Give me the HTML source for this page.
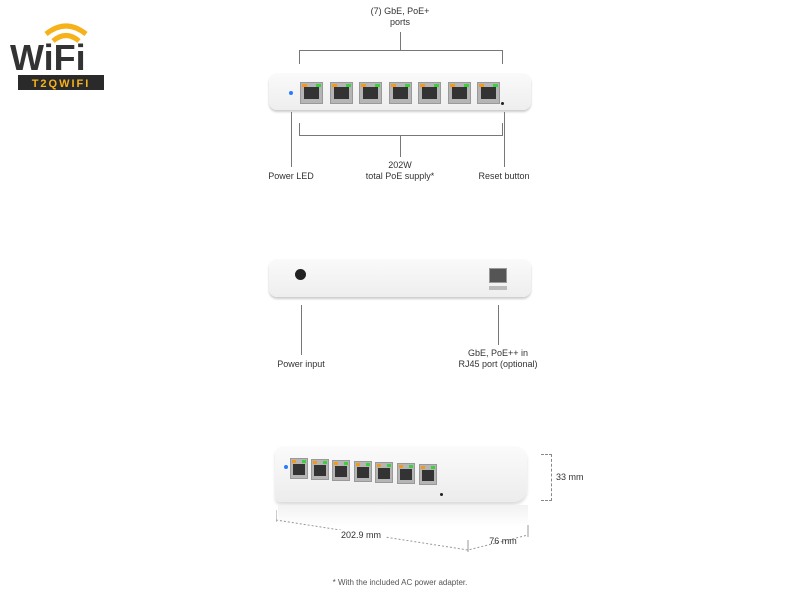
<!DOCTYPE html>
<html><head><style>
body{margin:0;width:800px;height:600px;background:#fff;position:relative;overflow:hidden;font-family:"Liberation Sans",sans-serif;color:#333}
.a{position:absolute}
.t{position:absolute;font-size:9px;text-align:center;line-height:11px;color:#333;white-space:nowrap}
.ln{position:absolute;background:#777}
.sw{position:absolute;background:linear-gradient(#fafafa,#eeeeee);border-radius:8px;box-shadow:0 2px 2px #ccc}
.p{position:absolute;width:21px;height:20px;background:#b5b5b5;border:1px solid #999}
.p:before{content:"";position:absolute;left:3px;top:4px;width:15px;height:12px;background:#333}
.p i{position:absolute;top:1px;width:5px;height:3px}
.q{position:absolute;width:16px;height:19px;background:#b5b5b5;border:1px solid #999}
.q:before{content:"";position:absolute;left:2px;top:5px;width:12px;height:11px;background:#333}
.q i{position:absolute;top:1px;width:4px;height:3px}
</style></head><body>
<!-- logo -->
<svg class="a" style="left:8px;top:20px" width="105" height="72">
<path d="M38 14 Q58 -2 78 14" stroke="#f6b21a" stroke-width="5" fill="none"/>
<path d="M45 21 Q58 10 71 21" stroke="#f6b21a" stroke-width="5" fill="none"/>
<text x="2" y="50" font-family="Liberation Sans" font-weight="bold" font-size="36" fill="#333">WiFi</text>
<rect x="10" y="55" width="86" height="15" fill="#2a2a2a"/>
<text x="53" y="67" font-family="Liberation Sans" font-weight="bold" font-size="11" fill="#f6b21a" text-anchor="middle" letter-spacing="2">T2QWIFI</text>
</svg>

<div class="t" style="left:350px;top:6px;width:100px">(7) GbE, PoE+<br>ports</div>
<div class="ln" style="left:400px;top:32px;width:1px;height:18px"></div>
<div class="ln" style="left:299px;top:50px;width:204px;height:1px"></div>
<div class="ln" style="left:299px;top:50px;width:1px;height:14px"></div>
<div class="ln" style="left:502px;top:50px;width:1px;height:14px"></div>

<div class="sw" style="left:269px;top:73px;width:262px;height:37px"></div>
<div class="a" style="left:289px;top:91px;width:4px;height:4px;border-radius:50%;background:#2a7bff"></div>
<div class="a" style="left:501px;top:102px;width:3px;height:3px;border-radius:50%;background:#222"></div>

<div class="ln" style="left:299px;top:123px;width:1px;height:12px"></div>
<div class="ln" style="left:502px;top:123px;width:1px;height:12px"></div>
<div class="ln" style="left:299px;top:135px;width:204px;height:1px"></div>
<div class="ln" style="left:400px;top:135px;width:1px;height:22px"></div>
<div class="ln" style="left:291px;top:112px;width:1px;height:55px"></div>
<div class="ln" style="left:504px;top:112px;width:1px;height:55px"></div>
<div class="t" style="left:250px;top:171px;width:82px">Power LED</div>
<div class="t" style="left:340px;top:160px;width:120px">202W<br>total PoE supply*</div>
<div class="t" style="left:462px;top:171px;width:84px">Reset button</div>

<div class="sw" style="left:269px;top:259px;width:262px;height:38px"></div>
<div class="a" style="left:295px;top:269px;width:11px;height:11px;border-radius:50%;background:#222"></div>
<div class="a" style="left:489px;top:268px;width:16px;height:13px;background:#555;border:1px solid #999"></div>
<div class="a" style="left:489px;top:286px;width:18px;height:4px;background:#bbb"></div>
<div class="ln" style="left:301px;top:305px;width:1px;height:50px"></div>
<div class="ln" style="left:498px;top:305px;width:1px;height:40px"></div>
<div class="t" style="left:260px;top:359px;width:82px">Power input</div>
<div class="t" style="left:440px;top:348px;width:116px">GbE, PoE++ in<br>RJ45 port (optional)</div>

<div class="a" style="left:275px;top:446px;width:252px;height:56px;background:linear-gradient(#fbfbfb,#ececec);border-radius:8px 12px 14px 6px;box-shadow:0 3px 3px #ddd"></div>
<div class="a" style="left:284px;top:465px;width:4px;height:4px;border-radius:50%;background:#2a7bff"></div>
<div class="a" style="left:440px;top:493px;width:3px;height:3px;border-radius:50%;background:#222"></div>
<div class="a" style="left:278px;top:505px;width:250px;height:22px;background:linear-gradient(#f2f2f2,#fff)"></div>
<div class="a" style="left:541px;top:454px;width:10px;height:45px;border:1px dashed #888;border-left:none"></div>
<div class="t" style="left:556px;top:472px;width:40px;text-align:left">33 mm</div>
<svg class="a" style="left:276px;top:505px" width="260" height="50"><path d="M0 15 L192 45 L252 30" stroke="#999" stroke-dasharray="2 2" fill="none"/><path d="M0 5 V17 M192 35 V47 M252 20 V32" stroke="#999"/></svg>
<div class="t" style="left:336px;top:530px;width:50px;background:#fff">202.9 mm</div>
<div class="t" style="left:486px;top:536px;width:34px">76 mm</div>

<div class="t" style="left:300px;top:577px;width:200px;font-size:8px;color:#555">* With the included AC power adapter.</div>

<div id="ports"></div>
<script>
var h='';
for(var i=0;i<7;i++){var x=300+i*29.5;h+='<div class="p" style="left:'+x+'px;top:82px"><i style="left:1px;background:#f39a1c"></i><i style="right:1px;background:#3ed13e"></i></div>';}
var xs=[290,311,332,354,375,397,419],ys=[458,459,460,461,462,463,464];
for(var i=0;i<7;i++){h+='<div class="q" style="left:'+xs[i]+'px;top:'+ys[i]+'px"><i style="left:1px;background:#f39a1c"></i><i style="right:1px;background:#3ed13e"></i></div>';}
document.getElementById('ports').innerHTML=h;
</script>
</body></html>
